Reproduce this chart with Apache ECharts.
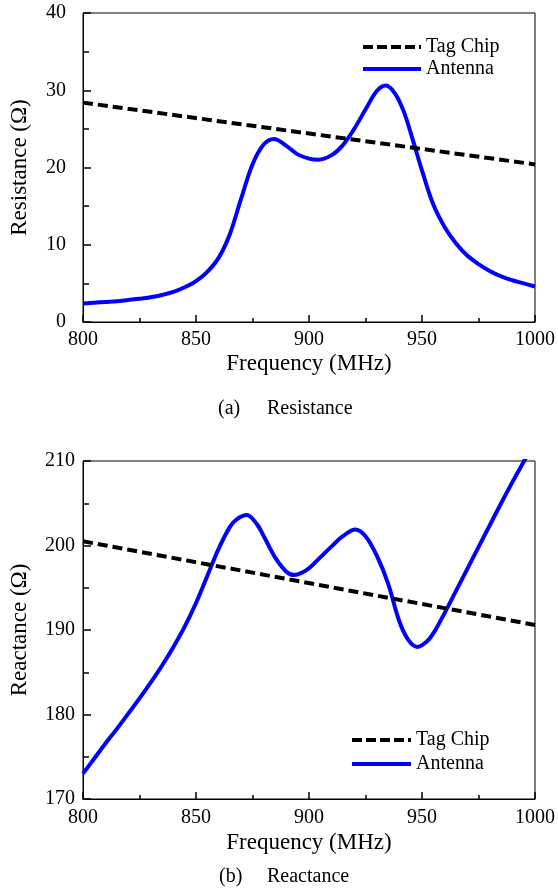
<!DOCTYPE html>
<html>
<head>
<meta charset="utf-8">
<script src="https://cdn.jsdelivr.net/npm/echarts@6/dist/echarts.min.js"></script>
<style>
html,body{margin:0;padding:0;background:#fff;}
#chart{width:558px;height:890px;}
</style>
</head>
<body>
<div id="chart"></div>
<script>
// ---- data ----
const resFreq = [800,805,810,815,820,825,830,835,840,845,850,855,860,865,870,875,880,884.5,890,895,900,904,910,915,920,925,930,934,938,942,946,950,955,960,965,970,975,980,985,990,995,1000];
const resAntenna = [2.4,2.5,2.6,2.7,2.85,3.0,3.2,3.5,3.9,4.5,5.3,6.5,8.3,11.4,16.0,20.4,23.0,23.7,22.8,21.7,21.15,21.0,21.6,22.9,25.0,27.5,29.9,30.6,29.6,27.2,23.5,19.6,15.2,12.3,10.2,8.6,7.5,6.6,5.9,5.4,5.0,4.6];
const reactFreq = [800,805,810,815,820,825,830,835,840,845,850,855,860,865,868,872.5,877,880,885,890,893.5,897,900,905,910,915,920.5,925,930,935,940,944,948,952,955,960,965,970,975,980,985,990,995,1000];
const reactAntenna = [173.0,174.8,176.6,178.3,180.1,181.9,183.8,185.8,188.0,190.4,193.2,196.4,199.6,202.2,203.1,203.6,202.5,201.1,198.6,196.9,196.5,196.8,197.3,198.6,199.9,201.1,201.9,201.1,198.8,195.5,191.0,188.8,188.0,188.6,189.6,192.0,194.6,197.2,199.8,202.4,205.0,207.5,209.9,212.3];
const chipFreq = [800, 1000];
const resChip = [28.4, 20.4];
const reactChip = [200.5, 190.6];
const seriesNames = ['Tag Chip', 'Antenna'];
const xTicks = {min: 800, max: 1000, interval: 50};
const resTicks = {min: 0, max: 40, interval: 10};
const reactTicks = {min: 170, max: 210, interval: 10};
const captions = [['(a)', 'Resistance'], ['(b)', 'Reactance']];
const yNames = ['Resistance (\u03A9)', 'Reactance (\u03A9)'];
const xName = 'Frequency (MHz)';

const pairs = (xs, ys) => xs.map((x, i) => [x, ys[i]]);
const FONT = '"Liberation Serif", "Times New Roman", serif';

function xAxisCfg(gridIndex, labelMargin, nameGap) {
  return {
    type: 'value', gridIndex, min: xTicks.min, max: xTicks.max, interval: xTicks.interval,
    name: xName, nameLocation: 'middle', nameGap,
    nameTextStyle: {fontFamily: FONT, fontSize: 23, color: '#000'},
    axisLine: {show: true, onZero: false, lineStyle: {color: '#000', width: 1}},
    axisTick: {show: true, inside: true, length: 7, lineStyle: {color: '#000', width: 1.5}},
    minorTick: {show: true, splitNumber: 2, length: 4, lineStyle: {color: '#000', width: 1.5}},
    axisLabel: {fontFamily: FONT, fontSize: 20, color: '#000', margin: labelMargin,
                formatter: v => String(v)},
    splitLine: {show: false}, minorSplitLine: {show: false}
  };
}
function yAxisCfg(gridIndex, t, name, labelMargin, nameGap) {
  return {
    type: 'value', gridIndex, min: t.min, max: t.max, interval: t.interval,
    name, nameLocation: 'middle', nameGap, nameRotate: 90,
    nameTextStyle: {fontFamily: FONT, fontSize: 23, color: '#000'},
    axisLine: {show: true, onZero: false, lineStyle: {color: '#000', width: 1}},
    axisTick: {show: true, inside: true, length: 8, lineStyle: {color: '#000', width: 1.5}},
    minorTick: {show: true, splitNumber: 2, length: 6, lineStyle: {color: '#000', width: 1.5}},
    axisLabel: {fontFamily: FONT, fontSize: 20, color: '#000', margin: labelMargin,
                formatter: v => String(v)},
    splitLine: {show: false}, minorSplitLine: {show: false}
  };
}
const chipStyle = {color: '#000', width: 4, type: [10, 5]};
const antStyle = {color: '#0000ff', width: 4, type: 'solid'};
const legendCommon = {
  orient: 'vertical', itemWidth: 58, itemHeight: 14,
  data: [
    {name: seriesNames[0], itemStyle: {opacity: 0}, lineStyle: {color: '#000', width: 4, type: [10, 4]}},
    {name: seriesNames[1], itemStyle: {opacity: 0}, lineStyle: {color: '#0000ff', width: 4, type: 'solid'}}
  ],
  textStyle: {fontFamily: FONT, fontSize: 20, color: '#000'}
};

const chart = echarts.init(document.getElementById('chart'), null, {renderer: 'canvas'});
chart.setOption({
  backgroundColor: '#fff',
  animation: false,
  grid: [
    {left: 79, right: 20, top: 13, height: 309, show: true, borderColor: '#000', borderWidth: 1},
    {left: 81, right: 19, top: 461, height: 338, show: true, borderColor: '#000', borderWidth: 1}
  ],
  xAxis: [xAxisCfg(0, 8, 30), xAxisCfg(1, 9, 32)],
  yAxis: [yAxisCfg(0, resTicks, yNames[0], 17, 52), yAxisCfg(1, reactTicks, yNames[1], 8, 52)],
  legend: [
    Object.assign({}, legendCommon, {left: 356, top: 32, itemGap: 2}),
    Object.assign({}, legendCommon, {left: 345, top: 725, itemGap: 4, itemWidth: 59})
  ],
  graphic: [
    {type: 'text', left: 218, top: 399, style: {text: captions[0][0], font: '20px ' + FONT, fill: '#000'}},
    {type: 'text', left: 267, top: 399, style: {text: captions[0][1], font: '20px ' + FONT, fill: '#000'}},
    {type: 'text', left: 219, top: 867, style: {text: captions[1][0], font: '20px ' + FONT, fill: '#000'}},
    {type: 'text', left: 267, top: 867, style: {text: captions[1][1], font: '20px ' + FONT, fill: '#000'}}
  ],
  series: [
    {name: seriesNames[0], type: 'line', xAxisIndex: 0, yAxisIndex: 0, symbol: 'none',
     data: pairs(chipFreq, resChip), lineStyle: chipStyle, itemStyle: {color: '#000'}, z: 3},
    {name: seriesNames[1], type: 'line', xAxisIndex: 0, yAxisIndex: 0, symbol: 'none', smooth: 0.35,
     data: pairs(resFreq, resAntenna), lineStyle: antStyle, itemStyle: {color: '#0000ff'}, z: 2},
    {name: seriesNames[0], type: 'line', xAxisIndex: 1, yAxisIndex: 1, symbol: 'none',
     data: pairs(chipFreq, reactChip), lineStyle: chipStyle, itemStyle: {color: '#000'}, z: 3},
    {name: seriesNames[1], type: 'line', xAxisIndex: 1, yAxisIndex: 1, symbol: 'none', smooth: 0.35, clip: true,
     data: pairs(reactFreq, reactAntenna), lineStyle: antStyle, itemStyle: {color: '#0000ff'}, z: 2}
  ]
});
</script>
</body>
</html>
